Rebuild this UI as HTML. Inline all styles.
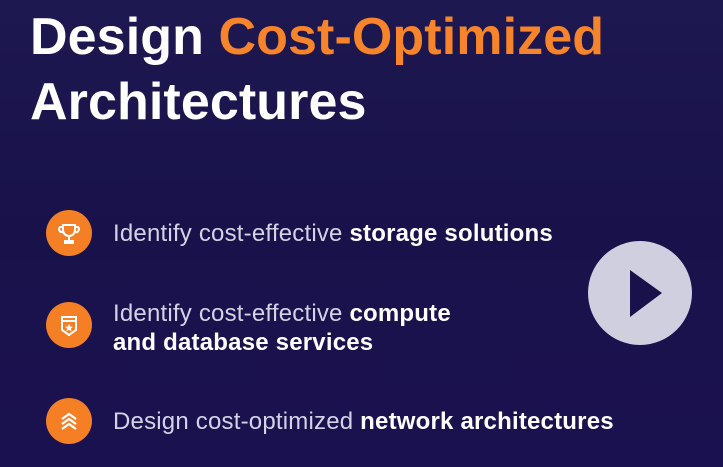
<!DOCTYPE html>
<html><head><style>
body{margin:0;width:723px;height:467px;overflow:hidden;background:linear-gradient(180deg,#1e1850 0%,#19124a 50%,#1a1150 100%);font-family:"Liberation Sans",sans-serif;position:relative}
.t{position:absolute;left:30px;color:#fff;font-weight:bold;font-size:52px;white-space:nowrap;letter-spacing:0.1px}
.o{color:#f7842a}
.ic{position:absolute;left:46px;width:46px;height:46px;border-radius:50%;background:#f47f24}
.ic svg{position:absolute;left:0;top:0}
.tx{position:absolute;left:113px;color:#d4d3e6;font-size:24px;letter-spacing:0.2px;line-height:29px;white-space:nowrap}
.tx b{color:#fff}
</style></head><body>
<div class="t" style="top:7px">Design <span class="o">Cost-Optimized</span></div>
<div class="t" style="top:72px">Architectures</div>

<div class="ic" style="top:210px"><svg width="46" height="46"><g fill="none" stroke="#fff" stroke-width="2"><path d="M17 15h12v5a6 6 0 0 1-12 0z"/><path d="M17 17h-3a3 3 0 0 0 3 5M29 17h3a3 3 0 0 1-3 5M23 26v4M19 31h8v2h-8z"/></g></svg></div>
<div class="tx" style="top:219px">Identify cost-effective <b>storage solutions</b></div>

<div class="ic" style="top:302px"><svg width="46" height="46"><g fill="none" stroke="#fff" stroke-width="2"><path d="M16 15h14v13l-7 5-7-5z"/><path d="M16 19h14"/></g><path d="M23 22l1.2 2.5 2.7.3-2 1.8.6 2.7-2.5-1.4-2.5 1.4.6-2.7-2-1.8 2.7-.3z" fill="#fff"/></svg></div>
<div class="tx" style="top:299px">Identify cost-effective <b>compute<br>and database services</b></div>

<div class="ic" style="top:398px"><svg width="46" height="46"><g fill="none" stroke="#fff" stroke-width="2.2"><path d="M16 21l7-5 7 5M16 26l7-5 7 5M16 31l7-5 7 5"/></g></svg></div>
<div class="tx" style="top:407px">Design cost-optimized <b>network architectures</b></div>

<svg style="position:absolute;left:588px;top:241px" width="104" height="104"><circle cx="52" cy="52" r="52" fill="#d0cfdf"/><path d="M42 29L74 52 42 76z" fill="#18114a"/></svg>
</body></html>
